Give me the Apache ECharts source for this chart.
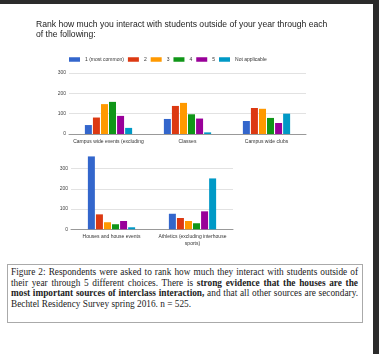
<!DOCTYPE html>
<html>
<head>
<meta charset="utf-8">
<script src="https://cdn.jsdelivr.net/npm/echarts@6/dist/echarts.min.js"></script>
<style>
  html, body { margin: 0; padding: 0; background: #fff; }
  body { width: 379px; height: 354px; position: relative; overflow: hidden; }
  #chart { position: absolute; left: 0; top: 0; width: 379px; height: 255px; }
  .topbar { position: absolute; left: 0; top: 0; width: 379px; height: 4px; background: #2b2b2b; }
  .sidebar { position: absolute; left: 373px; top: 0; width: 6px; height: 354px; background: #2b2b2b; }
  #caption {
    position: absolute; left: 7px; top: 264px; width: 347px; height: 53px;
    border: 1px solid #aaa; padding: 2px 4px 2px 3px;
    font-family: "Liberation Serif", serif; font-size: 9.3px; line-height: 10.6px; color: #222;
  }
  #caption div { text-align: justify; text-align-last: justify; white-space: nowrap; }
  #caption div.last { text-align-last: left; }
</style>
</head>
<body>
<div id="chart"></div>
<div class="topbar"></div>
<div class="sidebar"></div>
<div id="caption">
  <div>Figure 2: Respondents were asked to rank how much they interact with students outside of</div>
  <div>their year through 5 different choices. There is <b>strong evidence that the houses are the</b></div>
  <div><b>most important sources of interclass interaction,</b> and that all other sources are secondary.</div>
  <div class="last">Bechtel Residency Survey spring 2016. n = 525.</div>
</div>
<script>
// 图例名称与颜色
const legendNames = ['1 (most common)', '2', '3', '4', '5', 'Not applicable'];
const colors = ['#3366cc', '#dc3912', '#ff9900', '#109618', '#990099', '#0099c6'];

// 上面一行三个类别
const topCategories = ['Campus wide events (excluding', 'Classes', 'Campus wide clubs'];
const rank1Top = [44, 74, 64];
const rank2Top = [81, 138, 128];
const rank3Top = [147, 153, 124];
const rank4Top = [158, 97, 79];
const rank5Top = [89, 76, 54];
const naTop = [30, 8, 100];

// 下面一行两个类别
const bottomCategories = ['Houses and house events', 'Athletics (excluding interhouse\nsports)'];
const rank1Bottom = [361, 77];
const rank2Bottom = [74, 56];
const rank3Bottom = [35, 41];
const rank4Bottom = [25, 30];
const rank5Bottom = [41, 89];
const naBottom = [10, 252];

const yTicks = [0, 100, 200, 300];

const topData = [rank1Top, rank2Top, rank3Top, rank4Top, rank5Top, naTop];
const bottomData = [rank1Bottom, rank2Bottom, rank3Bottom, rank4Bottom, rank5Bottom, naBottom];

const chart = echarts.init(document.getElementById('chart'));

const labelStyle = { fontFamily: 'Liberation Sans, Arial, sans-serif', fontSize: 5, color: '#444' };

function makeSeries(data, axisIndex) {
  return data.map((vals, i) => ({
    name: legendNames[i],
    type: 'bar',
    xAxisIndex: axisIndex,
    yAxisIndex: axisIndex,
    data: vals,
    barWidth: 7,
    barGap: '15%',
    itemStyle: { color: colors[i] },
    emphasis: { disabled: true },
  }));
}

function yAxis(gridIndex, max) {
  return {
    type: 'value',
    gridIndex: gridIndex,
    min: 0,
    max: max,
    interval: 100,
    axisLabel: { ...labelStyle, margin: 3, showMaxLabel: max === 300,
      formatter: (v) => (yTicks.indexOf(v) >= 0 ? String(v) : '') },
    axisLine: { show: false },
    axisTick: { show: false },
    splitLine: { lineStyle: { color: '#e2e2e2', width: 1 }, showMaxLine: max === 300 },
  };
}

function xAxis(gridIndex, cats) {
  return {
    type: 'category',
    gridIndex: gridIndex,
    data: cats,
    axisLine: { lineStyle: { color: '#999', width: 1 } },
    axisTick: { show: false },
    axisLabel: { ...labelStyle, color: '#333', margin: 4, interval: 0, lineHeight: 7 },
  };
}

const option = {
  animation: false,
  title: {
    text: 'Rank how much you interact with students outside of your year through each\nof the following:',
    left: 36,
    top: 20,
    padding: 0,
    textStyle: {
      fontFamily: 'Liberation Sans, Arial, sans-serif',
      fontSize: 8.6,
      fontWeight: 'normal',
      lineHeight: 10,
      color: '#222',
    },
  },
  legend: {
    data: legendNames,
    left: 69,
    top: 57,
    padding: 0,
    itemWidth: 11,
    itemHeight: 4.5,
    itemGap: 4,
    icon: 'rect',
    textStyle: { fontFamily: 'Liberation Sans, Arial, sans-serif', fontSize: 5, color: '#333' },
  },
  color: colors,
  grid: [
    { left: 69, top: 73, width: 237, height: 61 },
    { left: 71, top: 154.6, width: 162, height: 74.7 },
  ],
  xAxis: [xAxis(0, topCategories), xAxis(1, bottomCategories)],
  yAxis: [yAxis(0, 300), yAxis(1, 370)],
  series: makeSeries(topData, 0).concat(makeSeries(bottomData, 1)),
};

chart.setOption(option);
</script>
</body>
</html>
